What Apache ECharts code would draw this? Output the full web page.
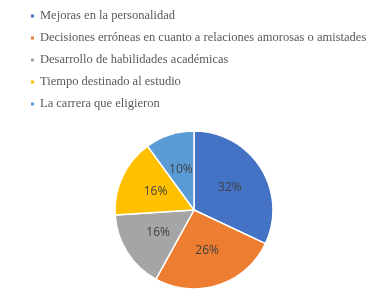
<!DOCTYPE html>
<html>
<head>
<meta charset="utf-8">
<script src="https://cdn.jsdelivr.net/npm/echarts@6/dist/echarts.min.js"></script>
<style>
  html, body { margin: 0; padding: 0; background: #fff; }
  #chart { width: 392px; height: 297px; }
</style>
</head>
<body>
<div id="chart"></div>
<script>
  const categories = [
    'Mejoras en la personalidad',
    'Decisiones erróneas en cuanto a relaciones amorosas o amistades',
    'Desarrollo de habilidades académicas',
    'Tiempo destinado al estudio',
    'La carrera que eligieron',
  ];
  const values = [32, 26, 16, 16, 10];
  const colors = ['#4472C4', '#ED7D31', '#A5A5A5', '#FFC000', '#5B9BD5'];

  const myChart = echarts.init(document.getElementById('chart'));
  const options = {
    animation: false,
    color: colors,
    legend: {
      orient: 'vertical',
      left: 29,
      top: 9,
      padding: 0,
      itemWidth: 5,
      itemHeight: 5,
      itemGap: 8,
      icon: 'rect',
      textStyle: {
        fontFamily: 'Liberation Serif',
        fontSize: 12.5,
        lineHeight: 14,
        color: '#595959',
      },
      data: categories,
    },
    series: [
      {
        type: 'pie',
        center: [194, 210],
        radius: 79,
        startAngle: 90,
        clockwise: true,
        data: categories.map((name, i) => ({ name, value: values[i] })),
        itemStyle: {
          borderColor: '#fff',
          borderWidth: 1.5,
        },
        label: {
          position: 'inside',
          formatter: '{c}%',
          fontFamily: 'Open Sans',
          fontSize: 12,
          color: '#404040',
        },
        labelLine: { show: false },
      },
    ],
  };
  myChart.setOption(options);
</script>
</body>
</html>
